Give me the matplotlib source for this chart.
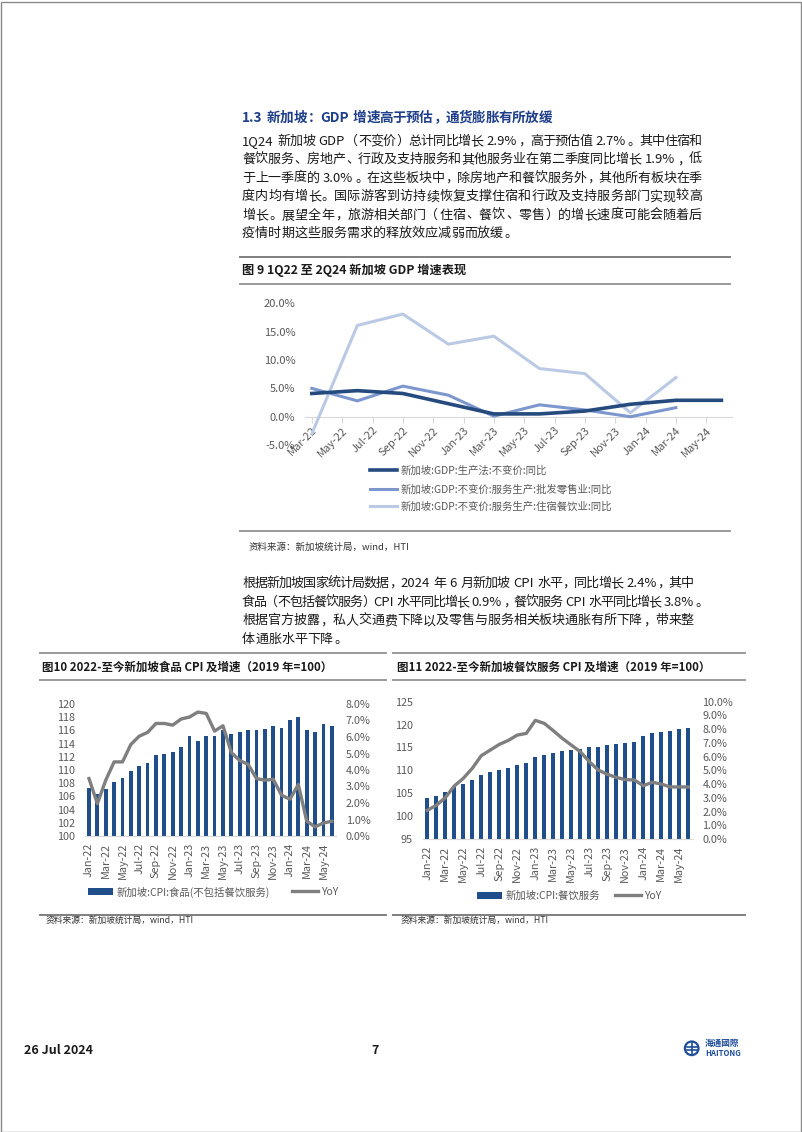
import re
import matplotlib
matplotlib.use('Agg')
import matplotlib.pyplot as plt
from matplotlib.patches import Rectangle, Circle
from matplotlib.lines import Line2D
import numpy as np

plt.rcParams['font.family'] = ['Noto Sans CJK SC', 'DejaVu Sans']
plt.rcParams['axes.unicode_minus'] = False

W, H = 802, 1132
fig = plt.figure(figsize=(W / 100, H / 100), dpi=100)
renderer = fig.canvas.get_renderer()

# ---------------- data ----------------
gdp_quarters = ['Mar-22', 'Jun-22', 'Sep-22', 'Dec-22', 'Mar-23', 'Jun-23',
                'Sep-23', 'Dec-23', 'Mar-24', 'Jun-24']
gdp_total = [4.1, 4.6, 4.1, 2.3, 0.5, 0.5, 1.0, 2.2, 2.9, 2.9]
gdp_wholesale = [5.0, 2.8, 5.4, 3.8, 0.1, 2.1, 1.2, 0.0, 1.6]
gdp_accom = [-3.0, 16.1, 18.1, 12.8, 14.2, 8.5, 7.6, 0.7, 6.9]
gdp_xticks = ['Mar-22', 'May-22', 'Jul-22', 'Sep-22', 'Nov-22', 'Jan-23', 'Mar-23',
              'May-23', 'Jul-23', 'Sep-23', 'Nov-23', 'Jan-24', 'Mar-24', 'May-24']
gdp_yticks = [-5, 0, 5, 10, 15, 20]
gdp_labels = ['新加坡:GDP:生产法:不变价:同比',
              '新加坡:GDP:不变价:服务生产:批发零售业:同比',
              '新加坡:GDP:不变价:服务生产:住宿餐饮业:同比']

months = ['Jan-22', 'Feb-22', 'Mar-22', 'Apr-22', 'May-22', 'Jun-22', 'Jul-22', 'Aug-22',
          'Sep-22', 'Oct-22', 'Nov-22', 'Dec-22', 'Jan-23', 'Feb-23', 'Mar-23', 'Apr-23',
          'May-23', 'Jun-23', 'Jul-23', 'Aug-23', 'Sep-23', 'Oct-23', 'Nov-23', 'Dec-23',
          'Jan-24', 'Feb-24', 'Mar-24', 'Apr-24', 'May-24', 'Jun-24']

food_cpi = [107.3, 106.4, 107.1, 108.2, 108.8, 109.9, 110.6, 111.1, 112.2, 112.4,
            112.8, 113.5, 115.1, 114.4, 115.1, 115.1, 116.0, 115.5, 115.7, 116.0,
            116.0, 116.2, 116.7, 116.3, 117.6, 118.1, 116.0, 115.8, 116.9, 116.6]
food_yoy = [3.48, 1.96, 3.38, 4.49, 4.49, 5.55, 6.05, 6.28, 6.82, 6.82,
            6.72, 7.09, 7.21, 7.51, 7.43, 6.36, 6.68, 5.06, 4.57, 4.35,
            3.48, 3.38, 3.44, 2.47, 2.23, 3.12, 0.91, 0.55, 0.79, 0.89]
food_left_ticks = [100, 102, 104, 106, 108, 110, 112, 114, 116, 118, 120]
food_right_ticks = [0, 1, 2, 3, 4, 5, 6, 7, 8]

fs_cpi = [104.0, 104.5, 105.3, 106.3, 107.0, 107.9, 108.9, 109.6, 110.1, 110.6,
          111.2, 111.5, 113.0, 113.4, 113.8, 114.3, 114.5, 114.7, 115.0, 115.2,
          115.5, 115.7, 116.0, 116.3, 117.5, 118.1, 118.3, 118.7, 119.0, 119.2]
fs_yoy = [2.09, 2.45, 3.01, 3.86, 4.42, 5.15, 6.07, 6.48, 6.89, 7.18,
          7.57, 7.69, 8.64, 8.42, 7.89, 7.33, 6.84, 6.36, 5.63, 5.02,
          4.71, 4.49, 4.32, 4.30, 3.88, 4.13, 4.00, 3.79, 3.79, 3.79]
fs_left_ticks = [95, 100, 105, 110, 115, 120, 125]
fs_right_ticks = [0, 1, 2, 3, 4, 5, 6, 7, 8, 9, 10]

para1 = ['1Q24 新加坡 GDP（不变价）总计同比增长 2.9%，高于预估值 2.7%。其中住宿和',
         '餐饮服务、房地产、行政及支持服务和其他服务业在第二季度同比增长 1.9%，低',
         '于上一季度的 3.0%。在这些板块中，除房地产和餐饮服务外，其他所有板块在季',
         '度内均有增长。国际游客到访持续恢复支撑住宿和行政及支持服务部门实现较高',
         '增长。展望全年，旅游相关部门（住宿、餐饮、零售）的增长速度可能会随着后',
         '疫情时期这些服务需求的释放效应减弱而放缓。']
para2 = ['根据新加坡国家统计局数据，2024 年 6 月新加坡 CPI 水平，同比增长 2.4%，其中',
         '食品（不包括餐饮服务）CPI 水平同比增长 0.9%，餐饮服务 CPI 水平同比增长 3.8%。',
         '根据官方披露，私人交通费下降以及零售与服务相关板块通胀有所下降，带来整',
         '体通胀水平下降。']

GRAY_T = '#595959'
SEP = '#8c8c8c'


# ---------------- helpers ----------------
def fxy(x, y):
    return x / W, 1 - y / H


def add_ax(l, t, r, b):
    return fig.add_axes([l / W, 1 - b / H, (r - l) / W, (b - t) / H])


def mpos(lbl):
    names = ['Jan', 'Feb', 'Mar', 'Apr', 'May', 'Jun', 'Jul', 'Aug', 'Sep', 'Oct', 'Nov', 'Dec']
    return (int(lbl[-2:]) - 22) * 12 + names.index(lbl[:3]) - 2


LEFT_P = set('，。、：；！？）」』】')
RIGHT_P = set('（「『【')


def tokenize(s):
    toks, sp = [], False
    for m in re.finditer(r' +|[!-~]+|.', s):
        t = m.group()
        if t.startswith(' '):
            sp = True
            continue
        toks.append((t, sp))
        sp = False
    return toks


def text_line(s, x0, yc, size, x1=None, weight='normal', color='#1a1a1a'):
    em = size * 100 / 72
    toks = tokenize(s)
    arts, ws = [], []
    for t, sp in toks:
        wide = len(t) == 1 and ord(t) > 0x2E7F
        if wide:
            ha = 'left' if t in LEFT_P else ('right' if t in RIGHT_P else 'center')
        else:
            ha = 'left'
        a = fig.text(0, 0, t, fontsize=size, fontweight=weight, color=color,
                     ha=ha, va='baseline')
        w = em if wide else a.get_window_extent(renderer).width + 1.0
        arts.append((a, ha, wide))
        ws.append(w)
    spaces = [em * 0.28 if sp else 0 for _, sp in toks]
    natural = sum(ws) + sum(spaces)
    extra = 0
    if x1 is not None and len(toks) > 1:
        extra = (x1 - x0 - natural) / (len(toks) - 1)
    x = x0
    base = yc + 0.36 * em
    for i, ((a, ha, wide), w) in enumerate(zip(arts, ws)):
        x += spaces[i]
        if wide and ha == 'center':
            px = x + em / 2
        elif wide and ha == 'left':
            px = x + 0.08 * em
        elif wide and ha == 'right':
            px = x + em - 0.08 * em
        else:
            px = x
        a.set_position(fxy(px, base))
        x += w + extra


def hline(y, x0, x1, color=SEP, lw=1.2):
    fig.add_artist(Line2D([x0 / W, x1 / W], [1 - y / H, 1 - y / H], color=color, lw=lw,
                          transform=fig.transFigure))


def leg(handle, label, x, y, size=7.5, hl=2.5):
    fig.legend([handle], [label], loc='center left', bbox_to_anchor=(x / W, 1 - y / H),
               frameon=False, fontsize=size, handlelength=hl, handletextpad=0.3,
               borderpad=0, borderaxespad=0, labelcolor=GRAY_T)


# ---------------- page text ----------------
text_line('1.3 新加坡：GDP 增速高于预估，通货膨胀有所放缓', 242, 117, 9.8, x1=552,
          weight='bold', color='#1F3F8A')
ys1 = [140, 158.5, 177, 195.5, 214, 232.5]
for i, (s, y) in enumerate(zip(para1, ys1)):
    text_line(s, 242, y, 9.4, x1=702 if i < len(para1) - 1 else None)
ys2 = [582, 601, 619.5, 638]
ends2 = [694, 707, 694, None]
for s, y, e in zip(para2, ys2, ends2):
    text_line(s, 242, y, 9.4, x1=e)

# ---------------- figure 9 ----------------
hline(257, 240, 730, color='#7f7f7f', lw=1.4)
fig.text(*fxy(242, 270.5), '图 9 1Q22 至 2Q24 新加坡 GDP 增速表现', fontsize=8.8,
         fontweight='bold', ha='left', va='center', color='#1a1a1a')
hline(284, 240, 730, color='#9a9a9a', lw=1.4)
hline(531, 240, 730, color='#9a9a9a', lw=1.4)
fig.text(*fxy(249, 547), '资料来源：新加坡统计局，wind，HTI', fontsize=6.8,
         ha='left', va='center', color='#333333')

ax9 = add_ax(305, 303.3, 732, 445.1)
ax9.patch.set_alpha(0)
xq = [mpos(q) for q in gdp_quarters]
l_total, = ax9.plot(xq, gdp_total, color='#244A7E', lw=2.6, zorder=3)
l_whole, = ax9.plot(xq[:len(gdp_wholesale)], gdp_wholesale, color='#7C97CE', lw=2.2, zorder=2)
l_accom, = ax9.plot(xq[:len(gdp_accom)], gdp_accom, color='#BAC9E4', lw=2.2, zorder=2.5)
ax9.set_xlim(-0.45, 27.7)
ax9.set_ylim(-5, 20)
for s in ['left', 'right', 'top']:
    ax9.spines[s].set_visible(False)
ax9.spines['bottom'].set_position(('data', 0))
ax9.spines['bottom'].set_color('#D9D9D9')
ax9.spines['bottom'].set_zorder(1)
ax9.set_xticks([mpos(t) for t in gdp_xticks])
ax9.set_xticklabels(gdp_xticks, rotation=45, ha='right', va='top', rotation_mode='anchor',
                    fontsize=8, color=GRAY_T)
ax9.tick_params(axis='x', length=4, color='#D9D9D9', pad=2)
ax9.set_yticks(gdp_yticks)
ax9.set_yticklabels([f'{v:.1f}%' for v in gdp_yticks], fontsize=8, color=GRAY_T)
ax9.tick_params(axis='y', length=0, pad=7)

leg(l_total, gdp_labels[0], 370, 471, hl=2.6)
leg(l_whole, gdp_labels[1], 370, 489, hl=2.6)
leg(l_accom, gdp_labels[2], 370, 507, hl=2.6)


# ---------------- figures 10 & 11 ----------------
def cpi_chart(box, title, tx, lines_x, vals, yoy, lticks, rticks, bar_label,
              leg_y, leg_bar_x, leg_line_x):
    l, t, r, b = box
    hline(653, lines_x[0], lines_x[1], color='#9a9a9a', lw=1.4)
    fig.text(*fxy(tx, 667), title, fontsize=8.3, fontweight='bold', ha='left',
             va='center', color='#1a1a1a')
    hline(680, lines_x[0], lines_x[1], color='#9a9a9a', lw=1.4)
    hline(915, lines_x[0], lines_x[1], color='#7f7f7f', lw=1.4)
    fig.text(*fxy(tx + 4, 920.5), '资料来源：新加坡统计局，wind，HTI', fontsize=6.3,
             ha='left', va='center', color='#333333')

    ax = add_ax(l, t, r, b)
    ax.patch.set_alpha(0)
    xi = np.arange(len(months))
    bars = ax.bar(xi, vals, width=0.45, color='#1F4E8A', zorder=2)
    ax.set_xlim(-0.5, len(months) - 0.5)
    ax.set_ylim(lticks[0], lticks[-1])
    ax.set_yticks(lticks)
    ax.set_yticklabels([str(v) for v in lticks], fontsize=7.8, color=GRAY_T)
    ax.tick_params(axis='y', length=0, pad=7)
    ax.set_xticks(xi[::2])
    ax.set_xticklabels(months[::2], rotation=90, fontsize=7.8, color=GRAY_T)
    ax.tick_params(axis='x', length=0, pad=5)
    for s in ['left', 'right', 'top']:
        ax.spines[s].set_visible(False)
    ax.spines['bottom'].set_color('#D9D9D9')

    axb = ax.twinx()
    ln, = axb.plot(xi, yoy, color='#7F7F7F', lw=2.4)
    axb.set_ylim(rticks[0], rticks[-1])
    axb.set_yticks(rticks)
    axb.set_yticklabels([f'{v:.1f}%' for v in rticks], fontsize=7.8, color=GRAY_T)
    axb.tick_params(axis='y', length=0, pad=7)
    for s in axb.spines.values():
        s.set_visible(False)

    leg(bars, bar_label, leg_bar_x, leg_y, hl=2.4)
    leg(ln, 'YoY', leg_line_x, leg_y, hl=2.5)


cpi_chart((84.8, 704, 336, 836), '图10 2022-至今新加坡食品 CPI 及增速（2019 年=100）', 42,
          (40, 386), food_cpi, food_yoy, food_left_ticks, food_right_ticks,
          '新加坡:CPI:食品(不包括餐饮服务)', 892, 88, 292)
cpi_chart((422.8, 701.7, 692.8, 839), '图11 2022-至今新加坡餐饮服务 CPI 及增速（2019 年=100）', 397,
          (393, 745), fs_cpi, fs_yoy, fs_left_ticks, fs_right_ticks,
          '新加坡:CPI:餐饮服务', 896, 477, 615)

# ---------------- footer ----------------
fig.text(*fxy(24, 1050), '26 Jul 2024', fontsize=9, fontweight='bold', ha='left',
         va='center', color='#1a1a1a')
fig.text(*fxy(375, 1050), '7', fontsize=9, fontweight='bold', ha='center',
         va='center', color='#1a1a1a')
LOGO = '#1F4E9A'
cx, cy = 691.7 / 100, (H - 1048.3) / 100
fig.add_artist(Circle((cx, cy), 0.068, transform=fig.dpi_scale_trans, fill=False,
                      edgecolor=LOGO, lw=1.6))
fig.add_artist(Line2D([cx - 0.05, cx + 0.05], [cy + 0.015, cy + 0.015], color=LOGO, lw=1.2,
                      transform=fig.dpi_scale_trans))
fig.add_artist(Line2D([cx - 0.05, cx + 0.05], [cy - 0.02, cy - 0.02], color=LOGO, lw=1.2,
                      transform=fig.dpi_scale_trans))
fig.add_artist(Line2D([cx, cx], [cy - 0.06, cy + 0.06], color=LOGO, lw=1.2,
                      transform=fig.dpi_scale_trans))
fig.text(*fxy(705, 1043.5), '海通國際', fontsize=6.2, fontweight='bold', ha='left',
         va='center', color=LOGO)
fig.text(*fxy(705, 1053.5), 'HAITONG', fontsize=5.6, fontweight='bold', ha='left',
         va='center', color=LOGO)

# page border
fig.add_artist(Rectangle((0.5 / W, 0.5 / H), (W - 2) / W, (H - 2.5) / H,
                         transform=fig.transFigure, fill=False, edgecolor='#8a8a8a', lw=1))

fig.savefig('out.png', dpi=100)
